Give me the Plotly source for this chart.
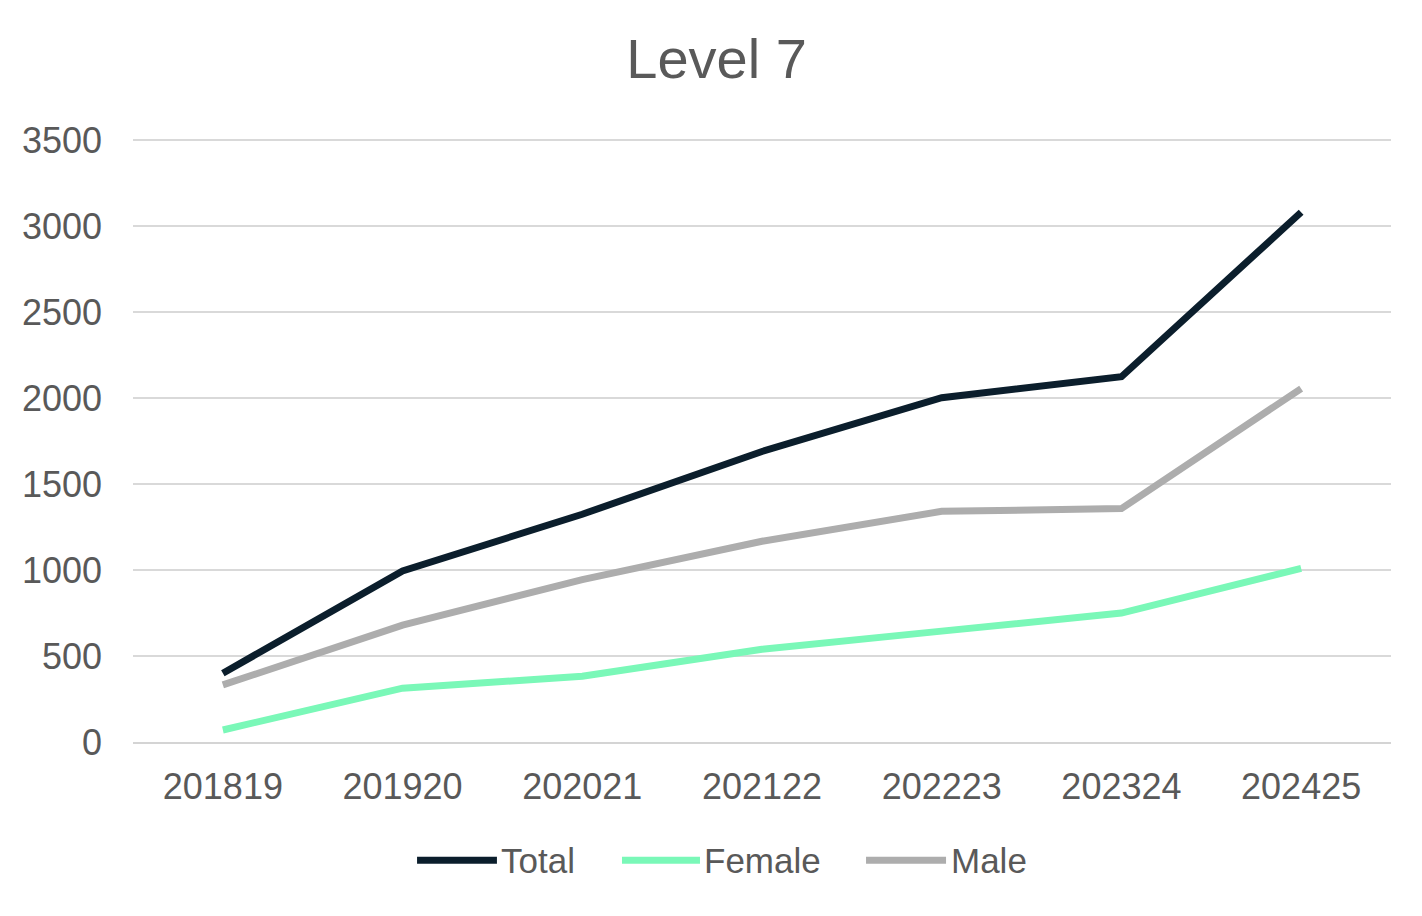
import plotly.graph_objects as go

# school years (shown as in the source, without separators)
years = ["201819", "201920", "202021", "202122", "202223", "202324", "202425"]

total = [400, 995, 1325, 1690, 2003, 2125, 3082]
female = [70, 313, 383, 540, 645, 750, 1010]
male = [332, 680, 945, 1168, 1342, 1358, 2056]

series = ["Total", "Female", "Male"]
colors = {
    "Total": "#0b1e2c",
    "Female": "#7af8b8",
    "Male": "#adadad",
}

fig = go.Figure()
for name, vals in zip(series, [total, female, male]):
    fig.add_trace(go.Scatter(
        x=years,
        y=vals,
        name=name,
        mode="lines",
        line=dict(color=colors[name], width=7),
        showlegend=False,
    ))

# legend drawn by hand so the key lines are long like the original
legend_x = [(0.2258, 0.2893), (0.3887, 0.4507), (0.5827, 0.6463)]
legend_y = -0.196
for name, (x0, x1) in zip(series, legend_x):
    fig.add_shape(type="line", xref="paper", yref="paper",
                  x0=x0, x1=x1, y0=legend_y, y1=legend_y,
                  line=dict(color=colors[name], width=7))
    fig.add_annotation(xref="paper", yref="paper", x=x1 + 0.002, y=legend_y,
                       text=name, showarrow=False, xanchor="left", yanchor="middle",
                       font=dict(size=35, color="#595959"))

fig.update_layout(
    width=1406,
    height=900,
    paper_bgcolor="white",
    plot_bgcolor="white",
    font=dict(family="Liberation Sans, Arial, sans-serif", size=36, color="#595959"),
    title=dict(
        text="Level 7",
        x=0.504,
        xanchor="center",
        y=0.944,
        yanchor="middle",
        font=dict(size=56, color="#595959"),
    ),
    margin=dict(l=125, r=23, t=131, b=166),
    showlegend=False,
    xaxis=dict(
        type="category",
        range=[-0.5, 6.5],
        showgrid=False,
        showline=True,
        linecolor="#d4d4d4",
        linewidth=2,
        ticks="",
        ticklabelstandoff=12,
        zeroline=False,
        automargin=False,
    ),
    yaxis=dict(
        range=[0, 3508],
        tickvals=[0, 500, 1000, 1500, 2000, 2500, 3000, 3500],
        showgrid=True,
        gridcolor="#d9d9d9",
        gridwidth=2,
        zeroline=False,
        showline=False,
        ticks="",
        ticklabelstandoff=30,
        automargin=False,
    ),
)

fig.write_html("out.html")
